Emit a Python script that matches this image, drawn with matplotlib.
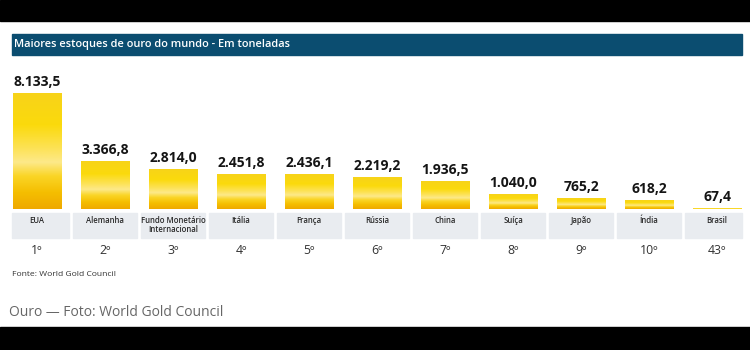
import numpy as np
import matplotlib
matplotlib.use("Agg")
import matplotlib.pyplot as plt
from matplotlib.patches import Rectangle
from matplotlib.colors import LinearSegmentedColormap
from matplotlib.transforms import blended_transform_factory

# data (toneladas)
paises = ["EUA", "Alemanha", "Fundo Monetário\nInternacional", "Itália", "França",
          "Rússia", "China", "Suíça", "Japão", "Índia", "Brasil"]
reservas = [8133.5, 3366.8, 2814.0, 2451.8, 2436.1, 2219.2, 1936.5, 1040.0, 765.2, 618.2, 67.4]
posicao = ["1º", "2º", "3º", "4º", "5º", "6º", "7º", "8º", "9º", "10º", "43º"]

titulo = "Maiores estoques de ouro do mundo - Em toneladas"
fonte = "Fonte: World Gold Council"
legenda = "Ouro — Foto: World Gold Council"

plt.rcParams['font.family'] = ['Open Sans', 'DejaVu Sans']

W, H = 750, 350
fig = plt.figure(figsize=(W / 100, H / 100), dpi=100)
fig.patch.set_facecolor("white")


def fy(px):
    # pixel from top -> figure fraction
    return 1 - px / H


def fx(px):
    return px / W


# letterbox black bands
fig.patches.append(Rectangle((0, fy(21)), 1, 21 / H, transform=fig.transFigure,
                             color="black", zorder=0))
fig.patches.append(Rectangle((0, 0), 1, (H - 327) / H, transform=fig.transFigure,
                             color="black", zorder=0))

# title band
fig.patches.append(Rectangle((fx(12), fy(55)), fx(730), 21 / H, transform=fig.transFigure,
                             color="#0b4d70", zorder=1))
fig.text(fx(14), fy(44.5), titulo, color="white", fontsize=7.9, fontweight="semibold",
         va="center", ha="left")

# axes: bar centers at 37 + 68*i px, baseline at 209 px
x_left = -0.45
x_right = 10.45
ax_left_px = 37 + x_left * 68
ax_w_px = (x_right - x_left) * 68
ymax = 10000
ax_h_px = ymax / reservas[0] * 116
ax = fig.add_axes([fx(ax_left_px), fy(209), fx(ax_w_px), ax_h_px / H])
ax.set_axis_off()

x = np.arange(len(paises))
bars = ax.bar(x, reservas, width=0.72, color="#f8d000", zorder=2)

gold = LinearSegmentedColormap.from_list("gold", [
    (0.0, "#efa900"),
    (0.14, "#f5be00"),
    (0.28, "#fad526"),
    (0.40, "#fde98a"),
    (0.52, "#fde256"),
    (0.72, "#fbda0c"),
    (1.0, "#f7d31a"),
])
grad = np.linspace(0, 1, 256).reshape(-1, 1)
for b in bars:
    x0, y0 = b.get_xy()
    im = ax.imshow(grad, cmap=gold, origin="lower", aspect="auto", zorder=3,
                   extent=[x0, x0 + b.get_width(), y0, y0 + b.get_height()])
    im.set_clip_path(b)

ax.set_xlim(x_left, x_right)
ax.set_ylim(0, ymax)

for xi, v in zip(x, reservas):
    txt = f"{v:,.1f}".replace(",", "X").replace(".", ",").replace("X", ".")
    ax.annotate(txt, (xi, v), xytext=(0, 3), textcoords="offset points",
                ha="center", va="bottom", fontsize=10, fontweight="bold", color="#151515")

# category cells and labels below the bars (cells limited to the title band width)
tr = blended_transform_factory(ax.transData, fig.transFigure)
cell_min = (12 - 37) / 68
cell_max = (742 - 37) / 68
for xi, nome, pos in zip(x, paises, posicao):
    c0 = max(xi - 0.47, cell_min)
    c1 = min(xi + 0.47, cell_max)
    ax.add_patch(Rectangle((c0, fy(238)), c1 - c0, 25 / H, transform=tr,
                           color="#e9ecf0", clip_on=False, zorder=1))
    ax.text(xi, fy(216), nome, transform=tr, ha="center", va="top", fontsize=5.6,
            color="#2a2a2a", fontweight="semibold", linespacing=1.0)
    ax.text(xi, fy(251), pos, transform=tr, ha="center", va="center", fontsize=8.8,
            color="#333333")

fig.text(fx(12), fy(275), fonte, fontsize=6.1, color="#333333", va="center", ha="left")
fig.text(fx(9), fy(313), legenda, fontsize=10, color="#666666", va="center", ha="left")

fig.savefig("out.png", dpi=100)
